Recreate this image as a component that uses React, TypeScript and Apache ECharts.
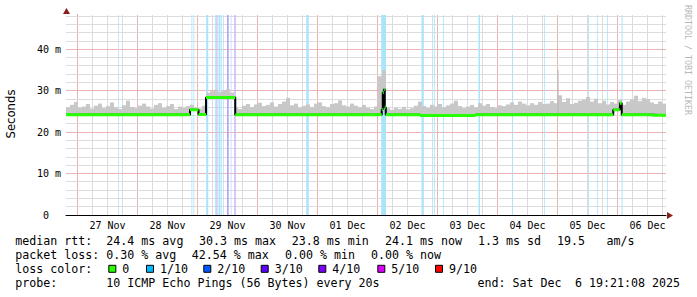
import React, { useEffect, useRef } from "react";
import * as echarts from "echarts";

// x values are hours relative to 27 Nov 2025 00:00
const X_MIN = -4.6;
const X_MAX = 235.4;
const Y_MAX = 48.3;

const DAY_LABELS = ["27 Nov", "28 Nov", "29 Nov", "30 Nov", "01 Dec", "02 Dec", "03 Dec", "04 Dec", "05 Dec", "06 Dec"];
const DAY_NOON = [12, 36, 60, 84, 108, 132, 156, 180, 204, 228];
const Y_LABEL_STEP = 10;

// median rtt (ms): value holds from MEDIAN_T[k] until the next change
const MEDIAN_T = [-4.6, 45.0, 48.4, 51.4, 63.1, 121.7, 122.1, 122.5, 122.9, 123.3, 137.1, 159.1, 214.3, 216.9, 217.7, 230.0];
const MEDIAN_V = [24.2, 25.4, 24.3, 28.4, 24.2, 25.5, 29.6, 30.3, 26.0, 24.2, 24.0, 24.2, 25.4, 27.0, 24.2, 24.1];

// smoke top (ms), one value per 1.6 h column
const SMOKE_STEP = 1.6;
const SMOKE_TOP = [
  26.0, 26.6, 27.3, 25.9, 26.2, 26.8, 25.7, 26.4, 26.9, 25.8,
  26.3, 27.2, 26.0, 25.6, 26.5, 27.6, 26.1, 25.8, 26.4, 26.9,
  26.2, 25.7, 26.6, 27.0, 25.9, 26.3, 26.8, 25.6, 26.2, 25.9,
  26.3, 26.6, 25.9, 25.7, 26.4, 29.5, 29.9, 30.3, 29.7, 30.1,
  30.4, 29.6, 25.9, 25.6, 26.4, 26.8, 26.1, 26.7, 27.1, 26.3,
  26.6, 27.2, 26.2, 26.8, 27.4, 28.3, 26.5, 26.9, 26.0, 26.4,
  26.7, 26.1, 26.9, 27.2, 26.3, 26.0, 26.8, 27.0, 27.7, 26.5,
  26.2, 26.9, 26.4, 26.0, 26.6, 25.9, 25.6, 26.2, 33.5, 35.0,
  25.8, 25.4, 25.9, 25.6, 26.1, 25.5, 25.8, 26.4, 27.4, 26.3,
  25.9, 26.6, 26.2, 26.8, 26.0, 26.5, 26.9, 27.6, 26.3, 25.8,
  26.2, 26.6, 26.0, 27.0, 26.4, 26.8, 26.1, 25.9, 26.5, 26.3,
  26.7, 27.2, 26.6, 27.4, 26.9, 26.5, 27.0, 26.6, 27.3, 26.8,
  26.9, 27.5, 27.0, 28.9, 27.3, 28.2, 26.8, 27.1, 27.6, 27.9,
  28.5, 27.4, 28.1, 27.0, 27.6, 26.7, 27.3, 26.9, 27.8, 26.6,
  27.4, 27.9, 28.8, 27.5, 28.3, 28.0, 27.2, 26.8, 27.4, 26.9,
];

const SPIKE_T = [192.2];
const SPIKE_TOP = [35.0];

// packet loss periods (hours) and loss level (index into LOSS_LABELS)
const LOSS_START = [16.3, 45.6, 46.4, 51.5, 55.1, 55.6, 56.4, 57.3, 58.3, 59.8, 61.3, 62.7, 91.5, 121.5, 137.6, 141.9, 142.7, 146.3, 160.4, 173.9, 186.7, 204.3, 207.9, 211.9, 217.6];
const LOSS_END = [16.6, 45.9, 46.7, 52.3, 55.6, 56.0, 57.1, 57.7, 58.6, 60.5, 61.6, 63.3, 92.5, 123.4, 138.5, 142.2, 143.0, 146.6, 161.0, 174.2, 187.0, 204.6, 208.2, 212.2, 218.0];
const LOSS_LEVEL = [1, 1, 1, 1, 1, 4, 1, 1, 1, 3, 1, 4, 1, 1, 1, 1, 1, 1, 1, 1, 1, 1, 1, 1, 1];

const LOSS_LABELS = ["0", "1/10", "2/10", "3/10", "4/10", "5/10", "9/10"];
const LOSS_COLORS = ["#26ff00", "#00b8ff", "#0059ff", "#5e00ff", "#7e00ff", "#dd00ff", "#ff0000"];
const LOSS_BAND_COLORS = ["#ffffff", "#a9e4fa", "#a9c6fc", "#bba4f5", "#cdb3f8", "#e3b5f9", "#ffb3b3"];

const RTT_TEXT = ["median rtt:", "24.4 ms avg", "30.3 ms max", "23.8 ms min", "24.1 ms now", "1.3 ms sd", "19.5", "am/s"];
const LOSS_TEXT = ["packet loss:", "0.30 % avg", "42.54 % max", "0.00 % min", "0.00 % now"];
const PROBE_TEXT = ["probe:", "10 ICMP Echo Pings (56 Bytes) every 20s", "end: Sat Dec", "6 19:21:08 2025"];

// layout
const RTT_X = [15.2, 106.3, 199, 291.7, 385, 478, 557, 606.5];
const LOSS_X = [15.2, 106.3, 191.7, 285, 371];
const PROBE_X = [15.2, 106.3, 477.5, 575];
const BOX_X = [108.3, 146, 203.3, 260.7, 318.3, 377.3, 435];
const LINE_Y = [241.3, 255.3, 269.3, 283.3];

const MONO = "DejaVu Sans Mono";
const LEG_FS = 11.65;
const GRID_GRAY = "#dcdcdc";
const GRID_RED = "#ecb4b4";

function medianAt(t: number): number {
  let v = MEDIAN_V[0];
  for (let k = 0; k < MEDIAN_T.length; k++) if (MEDIAN_T[k] <= t) v = MEDIAN_V[k];
  return v;
}

function legendText(text: string, x: number, y: number) {
  return {
    type: "text",
    x,
    y,
    silent: true,
    style: {
      text,
      fontFamily: MONO,
      fontSize: LEG_FS,
      fill: "#000",
      align: "left",
      textAlign: "left",
      verticalAlign: "middle",
      textVerticalAlign: "middle",
    },
  };
}

export default function App() {
  const ref = useRef<HTMLDivElement>(null);
  useEffect(() => {
    if (!ref.current) return;
    const chart = echarts.init(ref.current, null, { renderer: "svg" });

    // grid lines: [value, direction (0 vertical, 1 horizontal), major]
    const gridData: number[][] = [];
    for (let h = 0; h <= X_MAX; h += 6) if (h >= X_MIN) gridData.push([h, 0, h % 24 === 0 ? 1 : 0]);
    for (let v = 2; v <= Y_MAX; v += 2) gridData.push([v, 1, v % Y_LABEL_STEP === 0 ? 1 : 0]);

    const lossData = LOSS_START.map((s, i) => [s, LOSS_END[i], LOSS_LEVEL[i]]);

    // [center time, bottom, top]
    const smokeData = SMOKE_TOP.map((top, i) => {
      const t = X_MIN + (i + 0.5) * SMOKE_STEP;
      return [t, medianAt(t), top];
    });

    const spikeData: any[] = [];
    SPIKE_T.forEach((t, i) => {
      spikeData.push([t, medianAt(t)], [t, SPIKE_TOP[i]], [t, "-"]);
    });

    const blackData: any[] = MEDIAN_T.map((t, k) => [t, MEDIAN_V[k]]);
    blackData.push([X_MAX, MEDIAN_V[MEDIAN_V.length - 1]]);

    const greenData: any[] = [];
    MEDIAN_T.forEach((t, k) => {
      const end = k + 1 < MEDIAN_T.length ? MEDIAN_T[k + 1] : X_MAX;
      greenData.push([t, MEDIAN_V[k]], [end, MEDIAN_V[k]], [end, "-"]);
    });

    const graphic: any[] = [];
    RTT_TEXT.forEach((t, i) => graphic.push(legendText(t, RTT_X[i], LINE_Y[0])));
    LOSS_TEXT.forEach((t, i) => graphic.push(legendText(t, LOSS_X[i], LINE_Y[1])));
    graphic.push(legendText("loss color:", 15.2, LINE_Y[2]));
    LOSS_LABELS.forEach((lab, i) => {
      graphic.push({
        type: "rect",
        silent: true,
        shape: { x: BOX_X[i] + 0.5, y: LINE_Y[2] - 4, width: 7, height: 7 },
        style: { fill: LOSS_COLORS[i], stroke: "#000", lineWidth: 1 },
      });
      graphic.push(legendText(lab, BOX_X[i] + 14, LINE_Y[2]));
    });
    PROBE_TEXT.forEach((t, i) => graphic.push(legendText(t, PROBE_X[i], LINE_Y[3])));

    graphic.push({
      type: "text",
      x: 11,
      y: 114,
      rotation: Math.PI / 2,
      silent: true,
      style: {
        text: "Seconds",
        fontFamily: "DejaVu Sans",
        fontSize: 11.65,
        fill: "#000",
        align: "center",
        textAlign: "center",
        verticalAlign: "middle",
        textVerticalAlign: "middle",
      },
    });
    graphic.push({
      type: "text",
      x: 687.5,
      y: 60,
      rotation: -Math.PI / 2,
      silent: true,
      style: {
        text: "RRDTOOL / TOBI OETIKER",
        fontFamily: MONO,
        fontSize: 8.3,
        fill: "#b8b8b8",
        align: "center",
        textAlign: "center",
        verticalAlign: "middle",
        textVerticalAlign: "middle",
      },
    });
    graphic.push({
      type: "polygon",
      silent: true,
      shape: { points: [[667, 212], [673, 215.5], [667, 219]] },
      style: { fill: "#8b1c1c" },
    });
    graphic.push({
      type: "polygon",
      silent: true,
      shape: { points: [[63, 14], [66.5, 8], [70, 14]] },
      style: { fill: "#8b1c1c" },
    });

    const option: any = {
      animation: false,
      backgroundColor: "#ffffff",
      grid: { left: 66, top: 15, width: 600, height: 200, containLabel: false, outerBoundsMode: "none" },
      xAxis: {
        type: "value",
        min: X_MIN,
        max: X_MAX,
        axisLine: { show: true, onZero: true, lineStyle: { color: "#000", width: 1 } },
        axisTick: { show: false },
        axisLabel: {
          show: true,
          customValues: DAY_NOON,
          formatter: (v: number) => DAY_LABELS[Math.round((v - 12) / 24)] || "",
          fontFamily: MONO,
          fontSize: 10,
          color: "#000",
          margin: 5,
        },
        splitLine: { show: false },
      },
      yAxis: {
        type: "value",
        min: 0,
        max: Y_MAX,
        interval: 2,
        axisLine: { show: true, lineStyle: { color: "#555", width: 1 } },
        axisTick: { show: false },
        axisLabel: {
          show: true,
          fontFamily: MONO,
          fontSize: 10,
          color: "#000",
          margin: 5,
          formatter: (v: number) => {
            if (Math.abs(v % Y_LABEL_STEP) > 1e-6 || v > 48) return "";
            return v === 0 ? "{z|0}" : `${v} m`;
          },
          rich: { z: { fontFamily: MONO, fontSize: 10, color: "#000", padding: [0, 12, 0, 0] } },
        },
        splitLine: { show: false },
      },
      series: [
        {
          type: "custom",
          name: "gridLines",
          data: gridData,
          silent: true,
          clip: false,
          z: 5,
          encode: { x: 0, y: 0 },
          renderItem: (params: any, api: any) => {
            const v = api.value(0);
            const dir = api.value(1);
            const major = api.value(2);
            let shape;
            if (dir === 0) {
              const a = api.coord([v, 0]);
              const b = api.coord([v, Y_MAX]);
              const x = Math.floor(a[0]) + 0.5;
              shape = { x1: x, y1: a[1], x2: x, y2: b[1] };
            } else {
              const a = api.coord([X_MIN, v]);
              const b = api.coord([X_MAX, v]);
              const y = Math.floor(a[1]) + 0.5;
              shape = { x1: a[0], y1: y, x2: b[0], y2: y };
            }
            return {
              type: "line",
              shape,
              style: { stroke: major ? GRID_RED : GRID_GRAY, lineWidth: 1, fill: null },
            };
          },
        },
        {
          type: "custom",
          name: "loss",
          data: lossData,
          silent: true,
          clip: true,
          z: 6,
          encode: { x: [0, 1], y: 2 },
          renderItem: (params: any, api: any) => {
            const p1 = api.coord([api.value(0), Y_MAX]);
            const p2 = api.coord([api.value(1), 0]);
            return {
              type: "rect",
              shape: { x: p1[0], y: p1[1], width: p2[0] - p1[0], height: p2[1] - p1[1] },
              style: { fill: LOSS_BAND_COLORS[api.value(2)] },
            };
          },
        },
        {
          type: "custom",
          name: "smoke",
          data: smokeData,
          silent: true,
          clip: true,
          z: 7,
          encode: { x: 0, y: [1, 2] },
          renderItem: (params: any, api: any) => {
            const t = api.value(0);
            const lo = api.value(1);
            const hi = api.value(2);
            const p1 = api.coord([t - SMOKE_STEP / 2, hi]);
            const p2 = api.coord([t + SMOKE_STEP / 2, lo]);
            return {
              type: "rect",
              shape: { x: p1[0], y: p1[1], width: p2[0] - p1[0], height: p2[1] - p1[1] },
              style: { fill: "#c8c8c8" },
            };
          },
        },
        {
          type: "line",
          name: "spike",
          data: spikeData,
          symbol: "none",
          silent: true,
          z: 7,
          lineStyle: { width: 1, color: "#b4b4b4" },
        },
        {
          type: "line",
          name: "medianEdge",
          step: "end",
          data: blackData,
          symbol: "none",
          silent: true,
          z: 8,
          lineStyle: { width: 2, color: "#000" },
        },
        {
          type: "line",
          name: "median",
          data: greenData,
          symbol: "none",
          silent: true,
          z: 9,
          connectNulls: false,
          lineStyle: { width: 3, color: LOSS_COLORS[0], cap: "butt" },
        },
      ],
      graphic,
    };
    chart.setOption(option);
    return () => chart.dispose();
  }, []);
  return <div ref={ref} style={{ position: "fixed", left: 0, top: 0, width: 697, height: 297 }} />;
}
